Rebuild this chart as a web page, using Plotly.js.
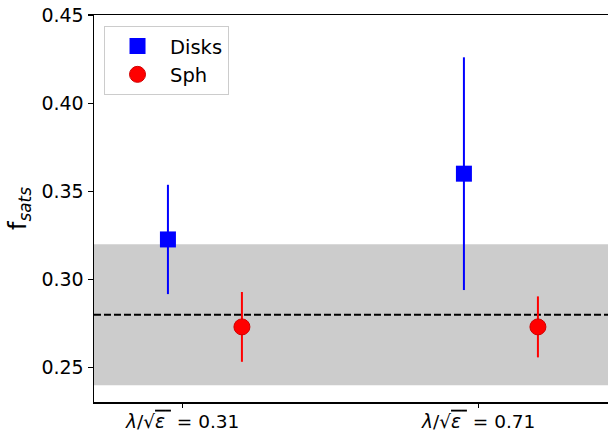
<!DOCTYPE html>
<html>
<head>
<meta charset="utf-8">
<script src="https://cdn.plot.ly/plotly-3.0.1.min.js"></script>
<style>html,body{margin:0;padding:0;background:#fff;}</style>
</head>
<body>
<div id="chart" style="width:608px;height:432px;"></div>
<script>
// Data
const tickVals = [0.31, 0.71];
const tickLabels = [
  "<i>λ</i>/√<span style='text-decoration:overline'><i>ε</i> </span> = 0.31",
  "<i>λ</i>/√<span style='text-decoration:overline'><i>ε</i> </span> = 0.71"
];
const diskX = [0.29, 0.69];
const diskY = [0.3227, 0.360];
const diskErr = [0.031, 0.066];
const sphX = [0.39, 0.79];
const sphY = [0.2731, 0.2731];
const sphErr = [0.0198, 0.0173];
const bandLow = 0.24;
const bandHigh = 0.32;
const refLine = 0.28;

const font = "DejaVu Sans, sans-serif";

const traces = [
  {
    x: diskX, y: diskY, name: "Disks", type: "scatter", mode: "markers",
    marker: {symbol: "square", size: 16, color: "#0000ff", line: {width: 0}},
    error_y: {type: "data", array: diskErr, visible: true, color: "#0000ff", thickness: 2, width: 0}
  },
  {
    x: sphX, y: sphY, name: "Sph", type: "scatter", mode: "markers",
    marker: {symbol: "circle", size: 16, color: "#ff0000", line: {width: 1, color: "#d00000"}},
    error_y: {type: "data", array: sphErr, visible: true, color: "#ff0000", thickness: 2, width: 0}
  }
];

const layout = {
  width: 608, height: 432,
  margin: {l: 94, r: 0, t: 15, b: 30, pad: 0},
  paper_bgcolor: "#ffffff", plot_bgcolor: "#ffffff",
  font: {family: font, size: 19, color: "#000"},
  showlegend: true,
  legend: {
    x: 0.0195, y: 0.972, xanchor: "left", yanchor: "top",
    bgcolor: "#ffffff", bordercolor: "#cccccc", borderwidth: 1,
    font: {family: font, size: 19.5, color: "#000"},
    itemwidth: 55
  },
  xaxis: {
    range: [0.1901, 0.8847],
    tickvals: tickVals, ticktext: tickLabels,
    showgrid: false, zeroline: false,
    showline: true, linecolor: "#000", linewidth: 1.5, mirror: true,
    ticks: "outside", ticklen: 4, tickwidth: 1.3, tickcolor: "#000",
    ticklabelstandoff: -2,
    tickfont: {family: font, size: 18.5, color: "#000"}
  },
  yaxis: {
    range: [0.2305, 0.45],
    tickvals: [0.25, 0.30, 0.35, 0.40, 0.45],
    tickformat: ".2f",
    showgrid: false, zeroline: false,
    showline: true, linecolor: "#000", linewidth: 1.5, mirror: false,
    ticks: "outside", ticklen: 5, tickwidth: 1.3, tickcolor: "#000",
    tickfont: {family: font, size: 19, color: "#000"},
    title: {text: "f<sub><i>sats</i></sub>", font: {family: font, size: 24, color: "#000"}, standoff: 8}
  },
  shapes: [
    {type: "rect", xref: "paper", yref: "y", x0: 0, x1: 1, y0: bandLow, y1: bandHigh,
     fillcolor: "#cccccc", line: {width: 0}, layer: "below"},
    {type: "line", xref: "paper", yref: "y", x0: 0, x1: 1, y0: refLine, y1: refLine,
     line: {color: "#000", width: 2, dash: "7px,3px"}, layer: "below"}
  ]
};

Plotly.newPlot("chart", traces, layout, {staticPlot: true, displayModeBar: false});
</script>
</body>
</html>
